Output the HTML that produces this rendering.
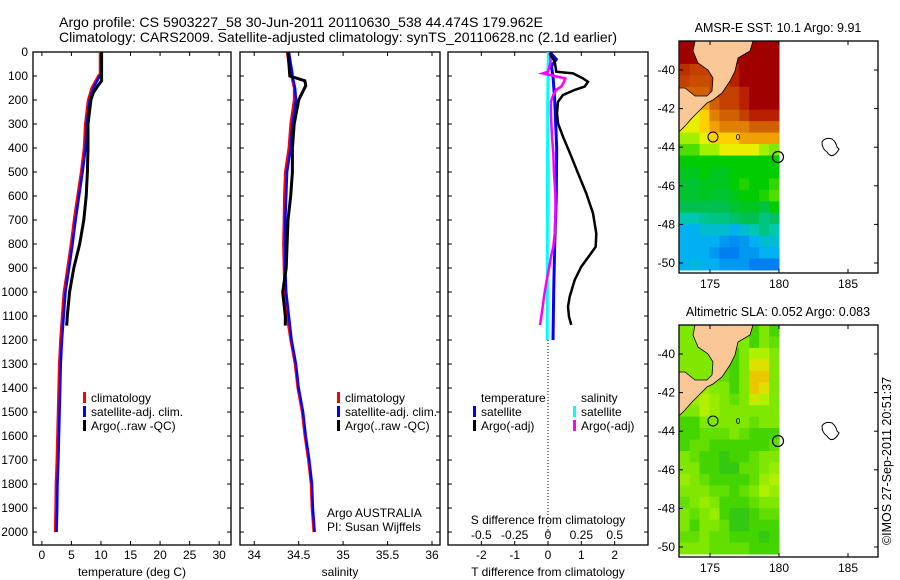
<!DOCTYPE html>
<html><head><meta charset="utf-8"><style>
html,body{margin:0;padding:0;background:#fff;}
svg{display:block;font-family:"Liberation Sans",sans-serif;}
</style></head><body>
<svg id="c" width="900" height="580" viewBox="0 0 900 580" xmlns="http://www.w3.org/2000/svg">
<text x="59" y="27" font-size="14" textLength="484" lengthAdjust="spacingAndGlyphs">Argo profile: CS 5903227_58 30-Jun-2011 20110630_538 44.474S 179.962E</text>
<text x="59" y="42" font-size="14" textLength="558" lengthAdjust="spacingAndGlyphs">Climatology: CARS2009. Satellite-adjusted climatology: synTS_20110628.nc (2.1d earlier)</text>
</svg>
<script>
// ---- profile data ----
const tDepth = [0,90,100,150,200,300,400,500,600,700,800,900,1000,1100,1200,1300,1400,1500,1600,1700,1800,1900,2000];
const tempClim = [10.0,10.0,9.7,8.6,8.0,7.5,7.3,6.8,6.2,5.6,5.1,4.5,3.9,3.6,3.3,3.1,3.0,2.9,2.8,2.7,2.55,2.5,2.4];
const tempSat  = [10.1,10.1,9.8,8.7,8.1,7.6,7.4,6.9,6.3,5.7,5.2,4.6,4.0,3.7,3.4,3.2,3.1,3.0,2.9,2.8,2.65,2.6,2.5];
const argoDepth = [0,100,120,140,170,200,300,400,500,600,700,800,900,1000,1100,1140];
const tempArgo = [10.1,10.1,10.1,9.5,8.7,8.3,7.8,7.8,7.7,7.5,7.1,6.4,5.4,4.7,4.3,4.2];
const salClim = [34.38,34.42,34.43,34.46,34.46,34.42,34.40,34.36,34.35,34.345,34.34,34.345,34.355,34.38,34.42,34.47,34.50,34.55,34.58,34.62,34.65,34.66,34.68];
const salSat  = [34.39,34.43,34.43,34.46,34.47,34.43,34.41,34.37,34.36,34.35,34.35,34.35,34.36,34.39,34.42,34.47,34.50,34.55,34.58,34.62,34.65,34.66,34.68];
const salArgo = [34.38,34.40,34.57,34.58,34.54,34.50,34.45,34.43,34.43,34.41,34.38,34.37,34.36,34.32,34.35,34.35];
const diffDepth = [0,30,60,100,200,400,600,800,1000,1200];
const tDiffSat = [0.05,0.25,0.1,0.15,0.2,0.26,0.25,0.2,0.17,0.15];
const sDiffSat = [0.003,0.002,0.0,0.0,-0.002,-0.003,-0.004,-0.005,-0.005,-0.006];
const argoDiffDepth = [5,40,82,89,110,124,144,158,179,207,255,297,353,422,505,589,672,756,811,846,894,950,1019,1061,1103,1137];
const tDiffArgo = [0.05,0.2,0.25,0.75,1.05,1.2,1.1,0.8,0.45,0.3,0.27,0.3,0.45,0.66,0.9,1.15,1.35,1.45,1.43,1.25,1.0,0.8,0.65,0.6,0.63,0.7];
const sDiffArgo = [0.015,0.02,0.0,-0.04,0.13,0.12,0.1,0.06,0.04,0.022,0.022,0.025,0.03,0.04,0.045,0.055,0.057,0.05,0.04,0.025,0.01,-0.01,-0.03,-0.04,-0.05,-0.06];
const tTicks = [0,5,10,15,20,25,30];
const sTicks = [34,34.5,35,35.5,36];
const tdTicks = [-2,-1,0,1,2];
const sdTicks = [-0.5,-0.25,0,0.25,0.5];
const sdTickLabels = ['-0.5','-0.25','0','0.25','0.5'];
const depthTicks = [0,100,200,300,400,500,600,700,800,900,1000,1100,1200,1300,1400,1500,1600,1700,1800,1900,2000];
// ---- map data (10 cols x 20 rows) ----
const sstGrid = [
[10,10,10,10,10,10,10,10,10,10],
[10,10,10,10,10,10,10,10,10,10],
[9.3,9,9,9,9.5,9.5,10,10,10,10],
[9,8.8,8.8,9,9,9.5,10,10,10,10],
[8.5,8.5,8.5,9,9,9,9.5,10,10,10],
[7,7,7.5,8.5,9,9,9.5,10,10,10],
[6.5,6.5,7,8,8.5,8.5,9,9.5,9.5,9.5],
[6.5,6.5,7,7.5,8,8,8,8.5,8.5,8.5],
[6,6,6.5,7,7,7,7.5,7.5,7.5,7.5],
[5.5,5.5,6,6,6.5,6.5,6.5,6.5,6,5.8],
[5,5,5,5,5,5,5,5,5,5],
[4.8,4.8,5,4.8,4.8,5,5,5,5,5],
[4.7,4.7,4.8,4.8,4.8,5,5.2,5,5,5.3],
[4.7,4.7,4.8,4.7,4.7,4.8,5,5,5.2,5.5],
[4.5,4.5,4.5,4.5,4.5,4.7,4.8,4.8,4.6,5],
[3.5,3.5,3.8,4,4,4.2,4.5,4.5,4,4.3],
[2.5,2.5,3,3,3,2.5,3,3.5,4,3.5],
[2.5,2.5,2.5,2.5,2,1.8,2,2.5,3,3],
[2.5,2.5,2.5,2,1.5,1.5,2,2,2.5,2.5],
[2.5,2.8,2.5,2.5,2,2,2,1.5,1.5,1.5]];
const slaGrid = [
[2,2,2,2,2,2,2,1,2,1],
[2,2,2,2,2,2,2,1,2,1.5],
[2,2,2,2,1.5,1,2,3,3,2],
[2,2,2,2,1.5,1,2,4,4,2],
[2,2,2,2,1.5,1,2,4.5,4.5,2],
[2,2,2.5,2,2,1,2,4.5,4,2],
[2,2.5,3,2.5,2,1.5,2,3.5,3,2],
[2,2,3,2.5,2,2,2,2,2,2],
[1,1,2,2,2,2,2,1.5,2,2],
[1,1,1.5,1.5,1.5,2,1.5,1,1,1],
[1,1.5,1.5,1,1,1,1,1,1,1.5],
[2,1.5,1,1,0.5,1,1,1.5,2,2],
[2,2,1,1,0.5,0.5,1.5,1.5,2,2.5],
[2.5,2,1.5,1,1,1,1,1.5,2.5,3],
[2,2,2,1.5,1.5,1,1.5,2,3,2.5],
[1.5,2,2.5,2,1,1,1,1.5,2,2],
[2,1.5,2,2.5,1,0.5,0.5,1,1.5,1.5],
[2,1,2,2,1.5,0.5,0.5,1,1,1],
[1.5,1.5,2,1.5,1.5,1,1,1,0.5,1],
[2,2,2,1.5,1.5,1.5,1.5,1,1,1]];
const latTicks = [-40,-42,-44,-46,-48,-50];
const lonTicks = [175,180,185];

const NS='http://www.w3.org/2000/svg';
const svg=document.getElementById('c');
function mk(tag,attrs,parent){const e=document.createElementNS(NS,tag);for(const k in attrs)e.setAttribute(k,attrs[k]);(parent||svg).appendChild(e);return e;}

const Y0=52,Y1=545,DMAX=2054;
const yD=d=>Y0+(d/DMAX)*(Y1-Y0);
function xScale(p){return v=>p.x0+(v-p.min)/(p.max-p.min)*(p.x1-p.x0);}
const P1={x0:33,x1:231,min:-1.5,max:32},P2={x0:240,x1:440,min:33.84,max:36.09},P3={x0:448,x1:648,min:-3,max:3};
const x1=xScale(P1),x2=xScale(P2),x3=xScale(P3);
const xs=v=>x3(v*4);

function line(xf,vals,depths,color,w,name){
  const pts=vals.map((v,i)=>xf(v).toFixed(1)+','+yD(depths[i]).toFixed(1)).join(' ');
  const e=mk('polyline',{points:pts,fill:'none',stroke:color,'stroke-width':w,'stroke-linejoin':'miter'});
  
  
}
function panel(p,name){
  const g=mk('rect',{x:p.x0,y:Y0,width:p.x1-p.x0,height:Y1-Y0,fill:'none',stroke:'#000','stroke-width':1.3});
  
  
  depthTicks.forEach(d=>{
    const y=yD(d);
    mk('line',{x1:p.x0,x2:p.x0+4,y1:y,y2:y,stroke:'#000'});
    mk('line',{x1:p.x1-4,x2:p.x1,y1:y,y2:y,stroke:'#000'});
  });
}
function xticks(xf,ticks,labels,ly,name){
  ticks.forEach((t,i)=>{
    const x=xf(t);
    mk('line',{x1:x,x2:x,y1:Y0,y2:Y0+4,stroke:'#000'});
    mk('line',{x1:x,x2:x,y1:Y1-4,y2:Y1,stroke:'#000'});
    if(labels){const e=mk('text',{x:x,y:ly,'font-size':12,'text-anchor':'middle'});e.textContent=labels[i];
      
      }
  });
}
function txt(x,y,s,name,anchor,size){const e=mk('text',{x:x,y:y,'font-size':size||12,'text-anchor':anchor||'start'});e.textContent=s;
  
  return e;}

// panel 1
panel(P1,'temperature-panel');
xticks(x1,tTicks,tTicks.map(String),559,'temperature-tick-label');
depthTicks.forEach(d=>{txt(28,yD(d)+4,String(d),'depth-tick-label','end');});
line(v=>x1(v)-1,tempClim,tDepth,'#ff0000',2.5,'temperature-climatology-line');
line(x1,tempSat,tDepth,'#0000ff',2.5,'temperature-satellite-line');
line(x1,tempArgo,argoDepth,'#000000',3,'temperature-argo-line');
txt(132,576,'temperature (deg C)','temperature-axis-title','middle');
// panel 2
panel(P2,'salinity-panel');
xticks(x2,sTicks,sTicks.map(String),559,'salinity-tick-label');
line(v=>x2(v)-1,salClim,tDepth,'#ff0000',2.5,'salinity-climatology-line');
line(x2,salSat,tDepth,'#0000ff',2.5,'salinity-satellite-line');
line(x2,salArgo,argoDepth,'#000000',3,'salinity-argo-line');
txt(340,576,'salinity','salinity-axis-title','middle');
// panel 3
panel(P3,'difference-panel');
mk('line',{x1:x3(0),x2:x3(0),y1:Y0,y2:Y1,stroke:'#000','stroke-dasharray':'1,2'});
xticks(x3,tdTicks,tdTicks.map(String),559,'t-difference-tick-label');
sdTicks.forEach((t,i)=>{txt(xs(t),539,sdTickLabels[i],'s-difference-tick-label','middle');});
line(xs,sDiffSat,diffDepth,'#00ffff',3,'salinity-satellite-difference-line');
line(x3,tDiffSat,diffDepth,'#0000ff',3,'temperature-satellite-difference-line');
line(xs,sDiffArgo,argoDiffDepth,'#ff00ff',2.5,'salinity-argo-difference-line');
line(x3,tDiffArgo,argoDiffDepth,'#000000',2.5,'temperature-argo-difference-line');
txt(548,524,'S difference from climatology','s-difference-axis-title','middle');
txt(548,576,'T difference from climatology','t-difference-axis-title','middle');

// legends
function leg(x,y,c,s,name){mk('rect',{x:x,y:y-10,width:3,height:11,fill:c});txt(x+8,y,s,name);}
[83,337].forEach(lx=>{
  leg(lx,402,'#ff0000','climatology','legend-climatology');
  leg(lx,416,'#0000ff','satellite-adj. clim.','legend-satellite-adj');
  leg(lx,430,'#000000','Argo(..raw -QC)','legend-argo');
});
txt(481,402,'temperature','legend-temperature-heading');
leg(473,416,'#0000ff','satellite','legend-temperature-satellite');
leg(473,430,'#000000','Argo(-adj)','legend-temperature-argo');
txt(581,402,'salinity','legend-salinity-heading');
leg(573,416,'#00ffff','satellite','legend-salinity-satellite');
leg(573,430,'#ff00ff','Argo(-adj)','legend-salinity-argo');
txt(327,517,'Argo AUSTRALIA','credit-argo-australia');
txt(327,531,'PI: Susan Wijffels','credit-pi');

// ---- maps ----
const sstStops=[[0,[0,64,208]],[1.5,[0,128,240]],[2.5,[0,176,240]],[3.5,[0,200,176]],[4.5,[0,192,80]],[5,[0,204,0]],[6,[160,240,0]],[6.5,[232,240,0]],[7,[255,208,0]],[7.5,[240,160,0]],[8.5,[208,96,0]],[9.5,[184,32,0]],[10,[160,0,0]]];
const slaStops=[[0,[34,187,34]],[1,[68,212,0]],[2,[128,232,0]],[3,[176,240,0]],[4,[224,224,0]],[5,[240,176,0]]];
function cmap(stops,v){for(let i=1;i<stops.length;i++){if(v<=stops[i][0]){const a=stops[i-1],b=stops[i],t=(v-a[0])/(b[0]-a[0]);return 'rgb('+a[1].map((c,j)=>Math.round(c+(b[1][j]-c)*t)).join(',')+')';}}const l=stops[stops.length-1][1];return 'rgb('+l.join(',')+')';}
const lonX=lon=>710+(lon-175)*13.8;
const landPts='695,41 753,41 750,51 738,58 735,71 730,81 722,93 713,100 707,103 700,110 692,118 685,126 680,131 679,131 679,88 685,88 695,96 707,96 712,91 713,78 708,70 698,63 693,51';
function map(top,grid,stops,title,name){
  const latY=lat=>top+29+(-40-lat)*19.3;
  const g=mk('g',{});
  
  
  const cw=(lonX(180)-lonX(172.8))/10, x0=lonX(172.8), ch=229/20;
  grid.forEach((row,r)=>row.forEach((v,c)=>{
    const e=mk('rect',{x:x0+c*cw,y:top+r*ch,width:cw+0.5,height:ch+0.5,fill:cmap(stops,v)},g);
    
    
  }));
  const o=top-41;
  const land=mk('polygon',{points:landPts.split(' ').map(p=>{const [a,b]=p.split(',');return a+','+(+b+o);}).join(' '),fill:'#f9c896',stroke:'#000','stroke-width':0.8},g);
  
  
  mk('circle',{cx:713,cy:o+137,r:5,fill:'none',stroke:'#000'},g);
  mk('ellipse',{cx:738,cy:o+137,rx:1.5,ry:2.5,fill:'none',stroke:'#000','stroke-width':0.8},g);
  mk('path',{d:`M822,${o+142} q3,-5 10,-3 q4,3 5,8 l2,2 q-2,4 -5,6 q-4,2 -7,-3 q-5,-3 -5,-10z`,fill:'none',stroke:'#000'},g);
  const fm=mk('circle',{cx:778,cy:o+157,r:5.5,fill:'none',stroke:'#000','stroke-width':1.2},g);
  
  
  mk('rect',{x:679,y:top,width:199,height:232,fill:'none',stroke:'#000','stroke-width':1.3},g);
  latTicks.forEach(l=>{const y=latY(l);
    mk('line',{x1:679,x2:683,y1:y,y2:y,stroke:'#000'},g);mk('line',{x1:874,x2:878,y1:y,y2:y,stroke:'#000'},g);
    txt(675,y+4,String(l),'map-latitude-tick-label','end');});
  lonTicks.forEach(l=>{const x=lonX(l);
    mk('line',{x1:x,x2:x,y1:top,y2:top+4,stroke:'#000'},g);mk('line',{x1:x,x2:x,y1:top+228,y2:top+232,stroke:'#000'},g);
    txt(x,top+247,String(l),'map-longitude-tick-label','middle');});
  txt(778,top-9,title,name+'-title','middle',12.5);
}
map(41,sstGrid,sstStops,'AMSR-E SST: 10.1 Argo: 9.91','sst-map');
map(325,slaGrid,slaStops,'Altimetric SLA: 0.052 Argo: 0.083','sla-map');
const cr=txt(0,0,'©IMOS 27-Sep-2011 20:51:37','copyright-timestamp','middle',12.5);
cr.setAttribute('transform','translate(891,461) rotate(-90)');
</script>
</body></html>
